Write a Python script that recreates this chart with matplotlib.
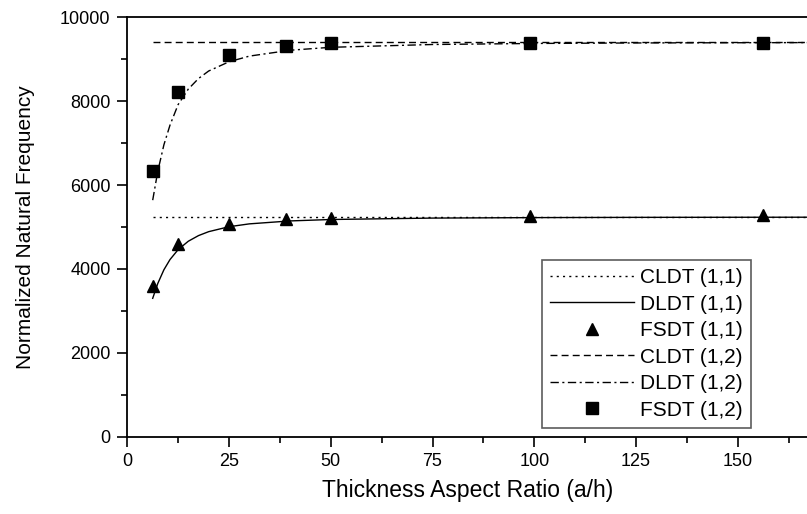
import matplotlib.pyplot as plt
from matplotlib.ticker import MultipleLocator

plt.rcParams['font.family'] = ['Liberation Sans', 'DejaVu Sans']

# FSDT points
ah_fsdt = [6.25, 12.5, 25, 39.06, 50, 99, 156.25]
fsdt_11 = [3600, 4600, 5070, 5190, 5220, 5265, 5280]
fsdt_12 = [6340, 8220, 9095, 9320, 9390, 9390, 9390]

# CLDT (flat)
ah_cldt = [6.25, 170]
cldt_11 = [5240, 5240]
cldt_12 = [9410, 9410]

# DLDT curves
ah_dldt = [6.25, 7.5, 9, 10.5, 12.5, 15, 17.5, 20, 25, 30, 40, 50, 75, 100, 125, 170]
dldt_11 = [3300, 3654, 3980, 4224, 4461, 4661, 4795, 4889, 5007, 5075, 5145, 5179, 5213, 5224, 5230, 5234]
dldt_12 = [5640, 6330, 6960, 7430, 7920, 8290, 8540, 8720, 8940, 9075, 9215, 9285, 9352, 9377, 9389, 9398]

fig = plt.figure(figsize=(8.07, 5.14), dpi=100)
ax = fig.add_axes([0.1577, 0.1504, 0.8423, 0.8159])

ax.plot(ah_cldt, cldt_11, linestyle=(0, (1.5, 3)), color='black', linewidth=1, label='CLDT (1,1)')
ax.plot(ah_dldt, dldt_11, linestyle='-', color='black', linewidth=1, label='DLDT (1,1)')
ax.plot(ah_fsdt, fsdt_11, linestyle='none', marker='^', color='black', markersize=9, label='FSDT (1,1)')
ax.plot(ah_cldt, cldt_12, linestyle=(0, (5, 3)), color='black', linewidth=1, label='CLDT (1,2)')
ax.plot(ah_dldt, dldt_12, linestyle=(0, (6, 2.5, 1.5, 2.5)), color='black', linewidth=1, label='DLDT (1,2)')
ax.plot(ah_fsdt, fsdt_12, linestyle='none', marker='s', color='black', markersize=8, label='FSDT (1,2)')

ax.set_xlim(0, 167)
ax.set_ylim(0, 10000)
ax.xaxis.set_major_locator(MultipleLocator(25))
ax.xaxis.set_minor_locator(MultipleLocator(12.5))
ax.yaxis.set_major_locator(MultipleLocator(2000))
ax.yaxis.set_minor_locator(MultipleLocator(1000))
ax.tick_params(which='major', direction='out', length=7, width=1.2, labelsize=13, pad=5)
ax.tick_params(which='minor', direction='out', length=4, width=1.2)
ax.tick_params(top=False, right=False)
ax.spines['right'].set_visible(False)
for s in ['left', 'bottom', 'top']:
    ax.spines[s].set_linewidth(1.3)

ax.set_xlabel('Thickness Aspect Ratio (a/h)', fontsize=16.5, labelpad=6)
ax.set_ylabel('Normalized Natural Frequency', fontsize=15, labelpad=18)

leg = ax.legend(loc='lower right', bbox_to_anchor=(0.9306, 0.1673), bbox_transform=fig.transFigure,
                borderaxespad=0, fancybox=False, edgecolor='#333333', fontsize=15,
                handlelength=4.0, labelspacing=0.36, handletextpad=0.3, borderpad=0.4)
leg.get_frame().set_linewidth(1.2)

fig.savefig('out.png', dpi=100)
